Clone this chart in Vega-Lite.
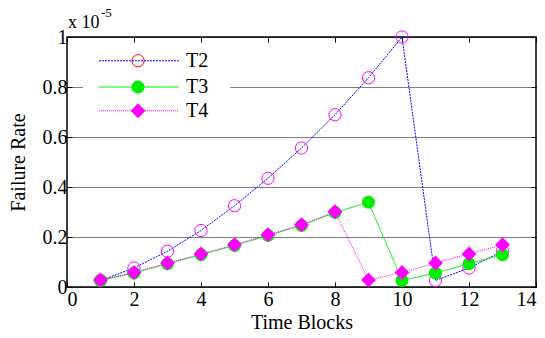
{
  "$schema": "https://vega.github.io/schema/vega-lite/v6.json",
  "width": 469,
  "height": 250,
  "autosize": {"type": "none"},
  "padding": {"left": 67, "top": 37, "right": 9, "bottom": 51},
  "background": "white",
  "config": {
    "view": {"stroke": "black", "strokeWidth": 1.5},
    "font": "Liberation Serif",
    "text": {"font": "Liberation Serif"},
    "axis": {
      "domain": false,
      "tickColor": "black",
      "tickSize": -5,
      "labelColor": "black",
      "labelFont": "Liberation Serif",
      "labelFontSize": 20,
      "titleFont": "Liberation Serif",
      "titleFontSize": 20,
      "titleFontWeight": "normal",
      "titleColor": "black"
    }
  },
  "datasets": {
    "main": [
      {"block": 1, "rate": 0.026, "series": "T2"},
      {"block": 2, "rate": 0.076, "series": "T2"},
      {"block": 3, "rate": 0.143, "series": "T2"},
      {"block": 4, "rate": 0.226, "series": "T2"},
      {"block": 5, "rate": 0.325, "series": "T2"},
      {"block": 6, "rate": 0.435, "series": "T2"},
      {"block": 7, "rate": 0.556, "series": "T2"},
      {"block": 8, "rate": 0.689, "series": "T2"},
      {"block": 9, "rate": 0.837, "series": "T2"},
      {"block": 10, "rate": 1.0, "series": "T2"},
      {"block": 11, "rate": 0.026, "series": "T2"},
      {"block": 12, "rate": 0.076, "series": "T2"},
      {"block": 13, "rate": 0.143, "series": "T2"},
      {"block": 1, "rate": 0.026, "series": "T3"},
      {"block": 2, "rate": 0.056, "series": "T3"},
      {"block": 3, "rate": 0.093, "series": "T3"},
      {"block": 4, "rate": 0.129, "series": "T3"},
      {"block": 5, "rate": 0.166, "series": "T3"},
      {"block": 6, "rate": 0.206, "series": "T3"},
      {"block": 7, "rate": 0.246, "series": "T3"},
      {"block": 8, "rate": 0.298, "series": "T3"},
      {"block": 9, "rate": 0.339, "series": "T3"},
      {"block": 10, "rate": 0.026, "series": "T3"},
      {"block": 11, "rate": 0.056, "series": "T3"},
      {"block": 12, "rate": 0.093, "series": "T3"},
      {"block": 13, "rate": 0.129, "series": "T3"},
      {"block": 1, "rate": 0.028, "series": "T4"},
      {"block": 2, "rate": 0.058, "series": "T4"},
      {"block": 3, "rate": 0.096, "series": "T4"},
      {"block": 4, "rate": 0.132, "series": "T4"},
      {"block": 5, "rate": 0.169, "series": "T4"},
      {"block": 6, "rate": 0.209, "series": "T4"},
      {"block": 7, "rate": 0.249, "series": "T4"},
      {"block": 8, "rate": 0.301, "series": "T4"},
      {"block": 9, "rate": 0.028, "series": "T4"},
      {"block": 10, "rate": 0.058, "series": "T4"},
      {"block": 11, "rate": 0.096, "series": "T4"},
      {"block": 12, "rate": 0.132, "series": "T4"},
      {"block": 13, "rate": 0.169, "series": "T4"}
    ],
    "legbox": [{"x1": 0.48, "x2": 4.87, "y1": 0.628, "y2": 0.968}],
    "leglines": [
      {"series": "T2", "lx": 0.955, "ly": 0.905},
      {"series": "T2", "lx": 3.34, "ly": 0.905},
      {"series": "T3", "lx": 0.955, "ly": 0.8},
      {"series": "T3", "lx": 3.34, "ly": 0.8},
      {"series": "T4", "lx": 0.955, "ly": 0.705},
      {"series": "T4", "lx": 3.34, "ly": 0.705}
    ],
    "legitems": [
      {"series": "T2", "lx": 2.12, "tx": 3.55, "ly": 0.905},
      {"series": "T3", "lx": 2.12, "tx": 3.55, "ly": 0.8},
      {"series": "T4", "lx": 2.12, "tx": 3.55, "ly": 0.705}
    ]
  },
  "resolve": {"axis": {"x": "independent", "y": "independent"}},
  "layer": [
    {
      "data": {"name": "main"},
      "mark": {"type": "line", "strokeWidth": 1},
      "encoding": {
        "x": {
          "field": "block", "type": "quantitative",
          "scale": {"domain": [0, 14], "nice": false},
          "axis": {"orient": "bottom", "values": [0, 2, 4, 6, 8, 10, 12, 14], "grid": false, "labelPadding": 7, "title": "Time Blocks", "titlePadding": 3}
        },
        "y": {
          "field": "rate", "type": "quantitative",
          "scale": {"domain": [0, 1], "nice": false},
          "axis": {"orient": "left", "values": [0, 0.2, 0.4, 0.6, 0.8, 1], "format": "~g", "grid": true, "gridColor": "#000000", "gridDash": [1, 1], "gridWidth": 1, "gridOpacity": 1, "labelPadding": 5, "title": "Failure Rate", "titlePadding": 14}
        },
        "color": {"field": "series", "type": "nominal", "scale": {"domain": ["T2", "T3", "T4"], "range": ["#0000ff", "#00ee00", "#ff00ff"]}, "legend": null},
        "strokeDash": {"field": "series", "type": "nominal", "scale": {"domain": ["T2", "T3", "T4"], "range": [[2, 1], [1, 0], [1, 1]]}, "legend": null}
      }
    },
    {
      "data": {"name": "legbox"},
      "mark": {"type": "rect", "fill": "white"},
      "encoding": {
        "x": {"field": "x1", "type": "quantitative", "axis": null},
        "x2": {"field": "x2"},
        "y": {"field": "y1", "type": "quantitative", "axis": null},
        "y2": {"field": "y2"}
      }
    },
    {
      "data": {"name": "main"},
      "transform": [{"filter": "datum.series == 'T2'"}],
      "mark": {"type": "point", "shape": "circle", "filled": false, "stroke": "#ff00ff", "strokeWidth": 1, "size": 150, "opacity": 1},
      "encoding": {
        "x": {"field": "block", "type": "quantitative", "axis": null},
        "y": {"field": "rate", "type": "quantitative", "axis": null}
      }
    },
    {
      "data": {"name": "main"},
      "transform": [{"filter": "datum.series == 'T3'"}],
      "mark": {"type": "point", "shape": "circle", "filled": true, "color": "#00ee00", "size": 170, "opacity": 1},
      "encoding": {
        "x": {"field": "block", "type": "quantitative", "axis": null},
        "y": {"field": "rate", "type": "quantitative", "axis": null}
      }
    },
    {
      "data": {"name": "main"},
      "transform": [{"filter": "datum.series == 'T4'"}],
      "mark": {"type": "point", "shape": "diamond", "filled": true, "color": "#ff00ff", "size": 220, "opacity": 1},
      "encoding": {
        "x": {"field": "block", "type": "quantitative", "axis": null},
        "y": {"field": "rate", "type": "quantitative", "axis": null}
      }
    },
    {
      "data": {"name": "leglines"},
      "mark": {"type": "line", "strokeWidth": 1},
      "encoding": {
        "x": {"field": "lx", "type": "quantitative", "axis": null},
        "y": {"field": "ly", "type": "quantitative", "axis": null},
        "color": {"field": "series", "type": "nominal", "legend": null},
        "strokeDash": {"field": "series", "type": "nominal", "legend": null}
      }
    },
    {
      "data": {"name": "legitems"},
      "transform": [{"filter": "datum.series == 'T2'"}],
      "mark": {"type": "point", "shape": "circle", "filled": false, "stroke": "#ff0000", "strokeWidth": 1, "size": 150, "opacity": 1},
      "encoding": {
        "x": {"field": "lx", "type": "quantitative", "axis": null},
        "y": {"field": "ly", "type": "quantitative", "axis": null}
      }
    },
    {
      "data": {"name": "legitems"},
      "transform": [{"filter": "datum.series == 'T3'"}],
      "mark": {"type": "point", "shape": "circle", "filled": true, "color": "#00ee00", "size": 170, "opacity": 1},
      "encoding": {
        "x": {"field": "lx", "type": "quantitative", "axis": null},
        "y": {"field": "ly", "type": "quantitative", "axis": null}
      }
    },
    {
      "data": {"name": "legitems"},
      "transform": [{"filter": "datum.series == 'T4'"}],
      "mark": {"type": "point", "shape": "diamond", "filled": true, "color": "#ff00ff", "size": 220, "opacity": 1},
      "encoding": {
        "x": {"field": "lx", "type": "quantitative", "axis": null},
        "y": {"field": "ly", "type": "quantitative", "axis": null}
      }
    },
    {
      "data": {"name": "legitems"},
      "mark": {"type": "text", "align": "left", "baseline": "middle", "fontSize": 20, "color": "black"},
      "encoding": {
        "x": {"field": "tx", "type": "quantitative", "axis": null},
        "y": {"field": "ly", "type": "quantitative", "axis": null},
        "text": {"field": "series"}
      }
    },
    {
      "data": {"values": [{"t": "x 10"}]},
      "mark": {"type": "text", "align": "left", "baseline": "alphabetic", "fontSize": 18, "color": "black", "dx": 1, "dy": -9},
      "encoding": {
        "x": {"datum": 0, "type": "quantitative", "axis": null},
        "y": {"datum": 1, "type": "quantitative", "axis": null},
        "text": {"field": "t"}
      }
    },
    {
      "data": {"values": [{"t": "-5"}]},
      "mark": {"type": "text", "align": "left", "baseline": "alphabetic", "fontSize": 13, "color": "black", "dx": 34, "dy": -20},
      "encoding": {
        "x": {"datum": 0, "type": "quantitative", "axis": null},
        "y": {"datum": 1, "type": "quantitative", "axis": null},
        "text": {"field": "t"}
      }
    },
    {
      "data": {"name": "main"},
      "mark": {"type": "point", "opacity": 0},
      "encoding": {
        "x": {"field": "block", "type": "quantitative", "axis": {"orient": "top", "values": [0, 2, 4, 6, 8, 10, 12, 14], "labels": false, "grid": false, "title": null}},
        "y": {"field": "rate", "type": "quantitative", "axis": {"orient": "right", "values": [0, 0.2, 0.4, 0.6, 0.8, 1], "labels": false, "grid": false, "title": null}}
      }
    }
  ]
}
